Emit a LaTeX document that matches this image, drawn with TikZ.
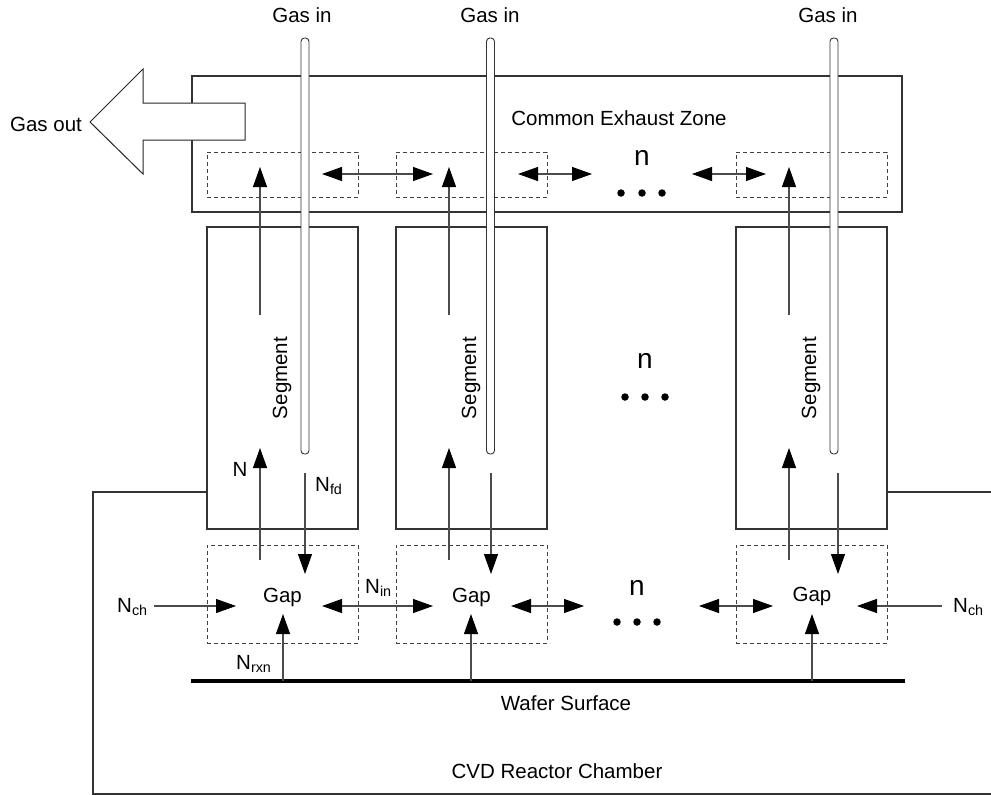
\documentclass[tikz,border=0pt]{standalone}
\usepackage{fontspec}
\setmainfont{Liberation Sans}
\usetikzlibrary{arrows.meta}
\begin{document}
\begin{tikzpicture}[x=1pt,y=-1pt,
  lbl/.style={font=\fontsize{20.5}{24}\selectfont, inner sep=0pt},
  bign/.style={font=\fontsize{28}{32}\selectfont, inner sep=0pt, anchor=base},
  solidbox/.style={draw=black!80, line width=1.1pt, inner sep=0pt},
  zonebox/.style={draw=black!75, dash pattern=on 4pt off 3pt, line width=0.9pt, inner sep=0pt,
    minimum width=151, minimum height=45},
  segbox/.style={solidbox, minimum width=151, minimum height=302},
  gapbox/.style={draw=black!75, dash pattern=on 4pt off 3pt, line width=0.9pt, inner sep=0pt,
    minimum width=151, minimum height=98},
  tube/.style={draw=black!80, fill=white, line width=0.9pt, rounded corners=3.5pt, inner sep=0pt,
    minimum width=8, minimum height=416},
  flow/.style={draw=black!70, line width=1.1pt, -{Triangle[length=20pt,width=14pt,color=black]}},
  flowboth/.style={draw=black!70, line width=1.1pt,
    {Triangle[length=20pt,width=14pt,color=black]}-{Triangle[length=20pt,width=14pt,color=black]}},
  dot/.style={fill=black, circle, inner sep=0pt, minimum size=7.5},
]
\useasboundingbox (0,0) rectangle (991,795);

% ---------- exhaust zone ----------
\node[solidbox, minimum width=710, minimum height=136] (exhaust) at (547,144) {};
\node[lbl, anchor=base] (exlabel) at (619,125) {Common Exhaust Zone};
\node[zonebox] (ez1) at (282.5,174.5) {};
\node[zonebox] (ez2) at (471.5,174.5) {};
\node[zonebox] (ez3) at (811.5,174.5) {};

% gas out arrow
\draw[draw=black!85, fill=white, line width=1pt]
  (90,122) -- (143,69) -- (143,103) -- (245,103) -- (245,140) -- (143,140) -- (143,174) -- cycle;
\node[lbl, anchor=base] (gasout) at (46,131) {Gas out};

% ---------- segments ----------
\node[segbox] (seg1) at (282.5,378) {};
\node[segbox] (seg2) at (471.5,378) {};
\node[segbox] (seg3) at (811.5,378) {};
\node[lbl, rotate=90] (seglbl1) at (282,378) {Segment};
\node[lbl, rotate=90] (seglbl2) at (471,378) {Segment};
\node[lbl, rotate=90] (seglbl3) at (811,378) {Segment};

% ---------- gaps ----------
\node[gapbox] (gap1) at (282.5,594) {};
\node[gapbox] (gap2) at (471.5,594) {};
\node[gapbox] (gap3) at (811.5,594) {};
\node[lbl, anchor=base] (gaplbl1) at (282.5,602) {Gap};
\node[lbl, anchor=base] (gaplbl2) at (471.5,602) {Gap};
\node[lbl, anchor=base] (gaplbl3) at (812,601) {Gap};

% ---------- reactor chamber ----------
\coordinate (chtop) at (0,492);
\coordinate (chcornerL) at (93,492);
\coordinate (chcornerB) at (93,794);
\coordinate (chendB) at (991,794);
\coordinate (chendR) at (991,492);
\draw[draw=black!80, line width=1.1pt] (seg1.west |- chtop) -- (chcornerL) -- (chcornerB) -- (chendB);
\draw[draw=black!80, line width=1.1pt] (seg3.east |- chtop) -- (chendR);
\node[lbl] (chlabel) at (557,771) {CVD Reactor Chamber};

% ---------- wafer ----------
\coordinate (wL) at (191,681);
\coordinate (wR) at (905,681);
\draw[line width=4pt] (wL) -- (wR);
\node[lbl] (wlabel) at (566,703) {Wafer Surface};

% ---------- arrows: segment to exhaust ----------
\coordinate (su1) at (260,315); \coordinate (eu1) at (260,167);
\coordinate (su2) at (449,315); \coordinate (eu2) at (449,167);
\coordinate (su3) at (789,315); \coordinate (eu3) at (789,167);
\draw[flow] (su1) -- (eu1);
\draw[flow] (su2) -- (eu2);
\draw[flow] (su3) -- (eu3);

% exhaust exchange
\coordinate (ea1) at (322,174); \coordinate (eb1) at (433,174);
\coordinate (ea2) at (518,174); \coordinate (eb2) at (592,174);
\coordinate (ea3) at (692,174); \coordinate (eb3) at (766,174);
\draw[flowboth] (ea1) -- (eb1);
\draw[flowboth] (ea2) -- (eb2);
\draw[flowboth] (ea3) -- (eb3);

% ---------- arrows: gap <-> segment ----------
\coordinate (gu1) at (260,560); \coordinate (gt1) at (260,448);
\coordinate (gu2) at (449,560); \coordinate (gt2) at (449,448);
\coordinate (gu3) at (789,560); \coordinate (gt3) at (789,448);
\draw[flow] (gu1) -- (gt1);
\draw[flow] (gu2) -- (gt2);
\draw[flow] (gu3) -- (gt3);
\coordinate (fd1) at (305,473); \coordinate (fe1) at (305,574);
\coordinate (fd2) at (491,473); \coordinate (fe2) at (491,574);
\coordinate (fd3) at (838,473); \coordinate (fe3) at (838,574);
\draw[flow] (fd1) -- (fe1);
\draw[flow] (fd2) -- (fe2);
\draw[flow] (fd3) -- (fe3);
\node[lbl] (lblN) at (240,469) {N};
\node[lbl, anchor=base west] (lblNfd) at (315,491) {N\textsubscript{fd}};

% ---------- arrows: gap row ----------
\coordinate (chL0) at (154,606); \coordinate (chL1) at (236,606);
\draw[flow] (chL0) -- (chL1);
\coordinate (ga1) at (322,606); \coordinate (gb1) at (433,606);
\coordinate (ga2) at (511,606); \coordinate (gb2) at (584,606);
\coordinate (ga3) at (699,606); \coordinate (gb3) at (773,606);
\draw[flowboth] (ga1) -- (gb1);
\draw[flowboth] (ga2) -- (gb2);
\draw[flowboth] (ga3) -- (gb3);
\coordinate (chR0) at (942,606); \coordinate (chR1) at (857,606);
\draw[flow] (chR0) -- (chR1);
\node[lbl, anchor=base west] (lblNchL) at (117,612) {N\textsubscript{ch}};
\node[lbl, anchor=base west] (lblNin) at (365,593) {N\textsubscript{in}};
\node[lbl, anchor=base west] (lblNchR) at (953,612) {N\textsubscript{ch}};

% ---------- arrows: wafer to gap ----------
\coordinate (wu1) at (283,681); \coordinate (wt1) at (283,614);
\coordinate (wu2) at (471,681); \coordinate (wt2) at (471,614);
\coordinate (wu3) at (812,681); \coordinate (wt3) at (812,614);
\draw[flow] (wu1) -- (wt1);
\draw[flow] (wu2) -- (wt2);
\draw[flow] (wu3) -- (wt3);
\node[lbl, anchor=base west] (lblNrxn) at (236,669) {N\textsubscript{rxn}};

% ---------- repeated units ----------
\node[bign] (nex) at (642,165) {n};
\node[dot] (dex1) at (621,193) {}; \node[dot] (dex2) at (642,193) {}; \node[dot] (dex3) at (662,193) {};
\node[bign] (nseg) at (645,368) {n};
\node[dot] (dsg1) at (625,397) {}; \node[dot] (dsg2) at (645,397) {}; \node[dot] (dsg3) at (665,397) {};
\node[bign] (ngap) at (637,595) {n};
\node[dot] (dgp1) at (617,622) {}; \node[dot] (dgp2) at (637,622) {}; \node[dot] (dgp3) at (657,622) {};

% ---------- gas inlet tubes ----------
\node[tube] (tube1) at (305,246) {};
\node[tube] (tube2) at (490.5,246) {};
\node[tube] (tube3) at (834,246) {};
\node[lbl, anchor=base] (gasin1) at (302,23) {Gas in};
\node[lbl, anchor=base] (gasin2) at (490,23) {Gas in};
\node[lbl, anchor=base] (gasin3) at (828,23) {Gas in};
\end{tikzpicture}
\end{document}
